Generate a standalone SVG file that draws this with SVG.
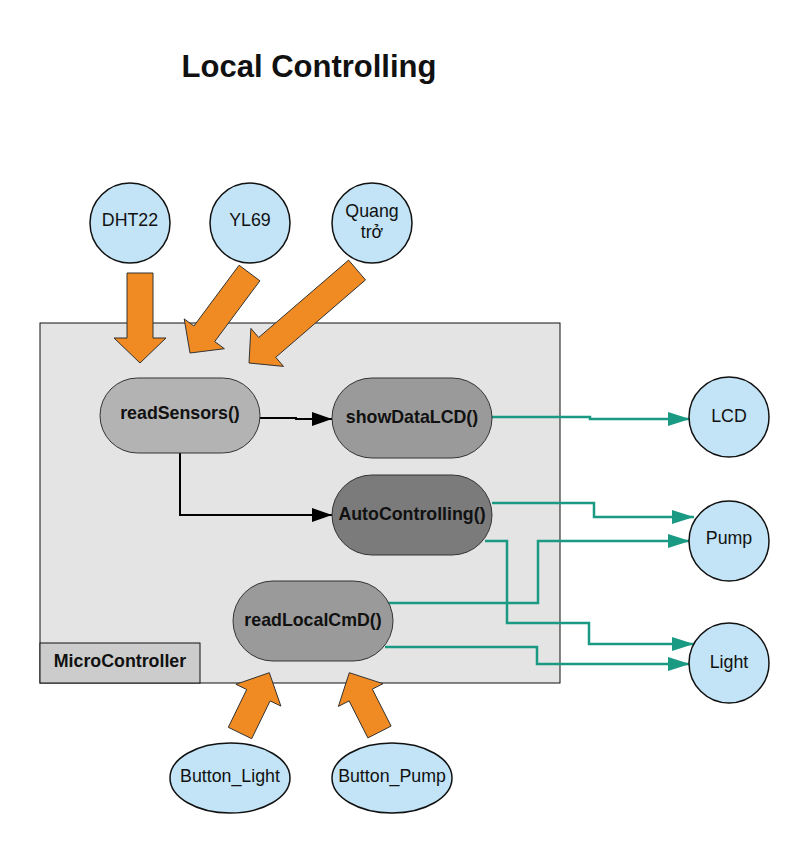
<svg xmlns="http://www.w3.org/2000/svg" width="810" height="853" viewBox="0 0 810 853">
<defs>
<style>
text{font-family:"Liberation Sans",Arial,sans-serif;font-size:17.8px;fill:#111;text-anchor:middle}
.b{font-weight:bold}
.io{fill:#c2e4f6;stroke:#111;stroke-width:1.5}
.proc{stroke:#333;stroke-width:1}
.blk{fill:#ef8b22;stroke:#333;stroke-width:1}
.k{fill:none;stroke:#000;stroke-width:2}
.t{fill:none;stroke:#1a9a83;stroke-width:2.5}
</style>
<marker id="ak" viewBox="0 0 20 14" refX="20" refY="7" markerWidth="20" markerHeight="14" markerUnits="userSpaceOnUse" orient="auto"><path d="M0,0 L20,7 L0,14 Z" fill="#000"/></marker>
<marker id="at" viewBox="0 0 22 14" refX="22" refY="7" markerWidth="22" markerHeight="14" markerUnits="userSpaceOnUse" orient="auto"><path d="M0,0 L22,7 L0,14 Z" fill="#1a9a83"/></marker>
</defs>
<rect width="810" height="853" fill="#fff"/>
<text x="309" y="77" class="b" style="font-size:31px">Local Controlling</text>

<g id="microcontroller">
<rect x="40" y="323" width="520" height="360" fill="#e4e4e4" stroke="#111" stroke-width="1"/>
<rect x="40" y="643" width="160" height="40" fill="#cccccc" stroke="#111" stroke-width="1"/>
<text x="120" y="667" class="b">MicroController</text>
</g>

<g id="connectors">
<path class="k" d="M260,418 L296,418 L296,419 L332,419" marker-end="url(#ak)"/>
<path class="k" d="M180,453 L180,515 L332,515" marker-end="url(#ak)"/>
<path class="t" d="M492,417 L590,417 L590,419 L690,419" marker-end="url(#at)"/>
<path class="t" d="M492,503 L594,503 L594,517 L694,517" marker-end="url(#at)"/>
<path class="t" d="M387,603 L538,603 L538,541 L690,541" marker-end="url(#at)"/>
<path class="t" d="M485,541 L507,541 L507,623 L589,623 L589,644 L694,644" marker-end="url(#at)"/>
<path class="t" d="M385,647 L537,647 L537,664 L690,664" marker-end="url(#at)"/>
<polygon class="blk" points="127,273 153,273 153,338 166,338 140,363 114,338 127,338"/>
<polygon class="blk" points="239.1,265.2 259.9,280.8 214.7,341.6 224.4,348.7 190,353 184.2,318.9 193.9,326"/>
<polygon class="blk" points="348.6,260.1 365.5,279.9 275.7,357.3 283.5,366.4 249,363 250.9,328.4 258.7,337.5"/>
<polygon class="blk" points="228.3,727.3 246.7,689.5 235.9,684.3 269.3,672.7 280.9,706.1 270.1,700.9 251.7,738.7"/>
<polygon class="blk" points="367.9,737.9 349.1,700.9 338.4,706.4 349.3,672.7 383,683.7 372.3,689.1 391.1,726.1"/>
</g>

<g id="readSensors"><rect class="proc" x="100" y="378" width="160" height="75" rx="37.5" fill="#b3b3b3"/><text x="180" y="419" class="b">readSensors()</text></g>
<g id="showDataLCD"><rect class="proc" x="332" y="378" width="160" height="80" rx="40" fill="#9a9a9a"/><text x="412" y="423" class="b">showDataLCD()</text></g>
<g id="autoControlling"><rect class="proc" x="332" y="475" width="160" height="80" rx="40" fill="#7b7b7b"/><text x="412" y="520" class="b">AutoControlling()</text></g>
<g id="readLocalCmD"><rect class="proc" x="233" y="581" width="160" height="80" rx="40" fill="#9a9a9a"/><text x="313" y="626" class="b">readLocalCmD()</text></g>

<g id="dht22"><circle class="io" cx="130" cy="223" r="40"/><text x="130" y="226">DHT22</text></g>
<g id="yl69"><circle class="io" cx="250" cy="223" r="40"/><text x="250" y="226">YL69</text></g>
<g id="quangtro"><circle class="io" cx="372" cy="223" r="40"/><text x="372" y="217">Quang</text><text x="372" y="238">trở</text></g>
<g id="lcd"><circle class="io" cx="729" cy="417" r="40"/><text x="729" y="422">LCD</text></g>
<g id="pump"><circle class="io" cx="729" cy="541" r="40"/><text x="729" y="544">Pump</text></g>
<g id="light"><circle class="io" cx="729" cy="663" r="40"/><text x="729" y="668">Light</text></g>
<g id="buttonLight"><ellipse class="io" cx="230" cy="778" rx="60" ry="35"/><text x="230" y="782">Button_Light</text></g>
<g id="buttonPump"><ellipse class="io" cx="392" cy="778" rx="60" ry="35"/><text x="392" y="782">Button_Pump</text></g>
</svg>
